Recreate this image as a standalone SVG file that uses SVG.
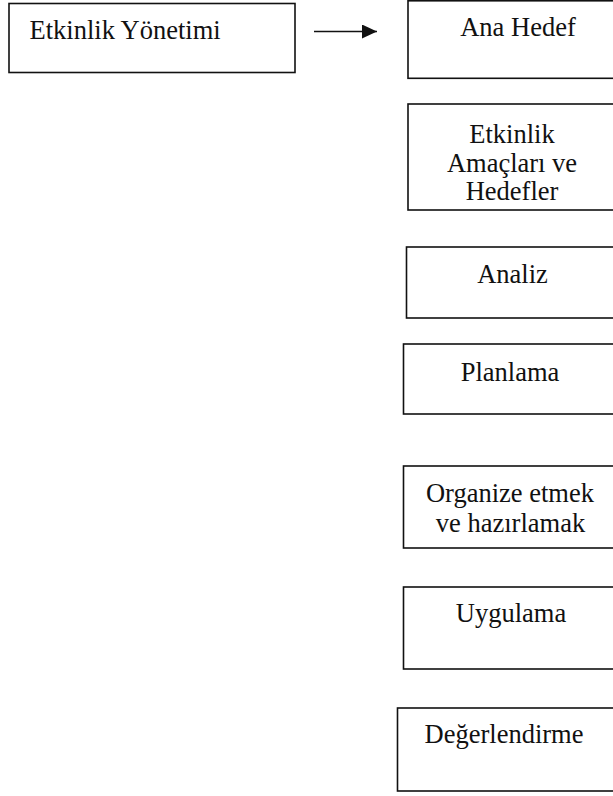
<svg xmlns="http://www.w3.org/2000/svg" width="613" height="796" viewBox="0 0 613 796">
<defs>
<style>
.box{fill:#fff;stroke:#111;stroke-width:1.6}
text{font-family:'Liberation Serif','Times New Roman',serif;font-size:26.5px;fill:#111}
.c{text-anchor:middle}
.conn{stroke:#111;stroke-width:1.4;fill:none}
</style>
<marker id="ah" markerWidth="16" markerHeight="14" refX="15" refY="7" orient="auto" markerUnits="userSpaceOnUse">
<polygon points="0,0 15,7 0,14" fill="#111"/>
</marker>
</defs>
<rect width="613" height="796" fill="#fff"/>
<g id="connectors">
<line class="conn" x1="314" y1="31.5" x2="377" y2="31.5" marker-end="url(#ah)"/>
</g>
<g id="etkinlik-yonetimi">
<rect class="box" x="9" y="3.5" width="286" height="69"/>
<text x="29.5" y="39">Etkinlik Yönetimi</text>
</g>
<g id="ana-hedef">
<rect class="box" x="408" y="0.8" width="220" height="77.5"/>
<text class="c" x="518" y="35.5">Ana Hedef</text>
</g>
<g id="amaclar">
<rect class="box" x="408" y="104" width="220" height="106"/>
<text class="c" x="512" y="142.5">Etkinlik</text>
<text class="c" x="512" y="171.5">Amaçları ve</text>
<text class="c" x="512" y="200">Hedefler</text>
</g>
<g id="analiz">
<rect class="box" x="406.5" y="247" width="220" height="71"/>
<text class="c" x="512.5" y="283">Analiz</text>
</g>
<g id="planlama">
<rect class="box" x="403.5" y="344" width="220" height="70"/>
<text class="c" x="510" y="380.5">Planlama</text>
</g>
<g id="organize">
<rect class="box" x="403.5" y="466" width="220" height="82"/>
<text class="c" x="510" y="502">Organize etmek</text>
<text class="c" x="510.5" y="531.5">ve hazırlamak</text>
</g>
<g id="uygulama">
<rect class="box" x="403.5" y="587" width="220" height="82"/>
<text class="c" x="511" y="622">Uygulama</text>
</g>
<g id="degerlendirme">
<rect class="box" x="397.5" y="708" width="230" height="83"/>
<text class="c" x="504" y="743">Değerlendirme</text>
</g>
</svg>
